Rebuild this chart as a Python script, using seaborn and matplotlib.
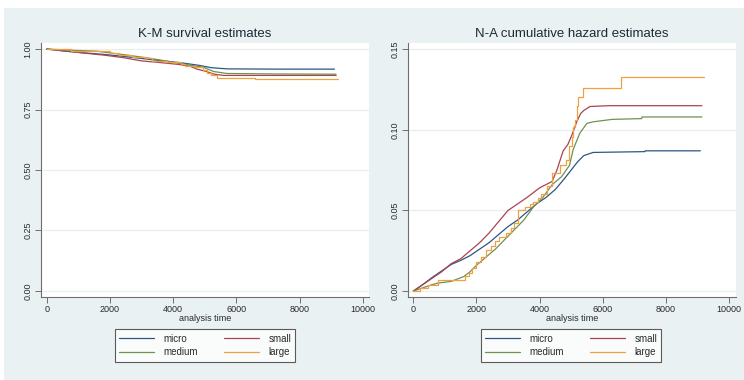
import matplotlib
matplotlib.use("Agg")
import matplotlib.pyplot as plt
from matplotlib.patches import Rectangle
from matplotlib.lines import Line2D
import seaborn as sns
import pandas as pd

# ---------------- data ----------------
groups = ["micro", "small", "medium", "large"]

# Nelson-Aalen cumulative hazard
na_micro_t = [0, 300, 600, 900, 1200, 1500, 1800, 2100, 2400, 2700, 3000, 3300, 3600, 3900, 4200,
              4500, 4800, 5000, 5200, 5400, 5700, 7340, 7350, 9100]
na_micro_h = [0, 0.004, 0.0085, 0.0125, 0.0165, 0.019, 0.022, 0.026, 0.030, 0.035, 0.040, 0.044,
              0.049, 0.054, 0.058, 0.063, 0.070, 0.075, 0.080, 0.084, 0.086, 0.0865, 0.087, 0.087]

na_small_t = [0, 300, 600, 900, 1200, 1500, 1800, 2100, 2400, 2700, 3000, 3300, 3600, 4000, 4200,
              4400, 4550, 4750, 4900, 5030, 5180, 5300, 5400, 5600, 6200, 9150]
na_small_h = [0, 0.004, 0.008, 0.012, 0.017, 0.020, 0.025, 0.030, 0.036, 0.043, 0.050, 0.054, 0.058,
              0.064, 0.066, 0.068, 0.075, 0.087, 0.091, 0.097, 0.105, 0.110, 0.112, 0.1145, 0.115, 0.115]

na_medium_t = [0, 300, 600, 800, 1200, 1600, 1800, 2000, 2300, 2600, 2900, 3200, 3500, 3800, 4100,
               4400, 4700, 4950, 5070, 5280, 5500, 5700, 6300, 7240, 7250, 9150]
na_medium_h = [0, 0.002, 0.004, 0.005, 0.006, 0.009, 0.012, 0.016, 0.021, 0.026, 0.032, 0.038, 0.044,
               0.052, 0.058, 0.066, 0.071, 0.078, 0.088, 0.098, 0.104, 0.105, 0.1065, 0.107, 0.108, 0.108]

na_large_t = [0, 200, 450, 780, 1650, 1750, 1850, 2000, 2150, 2300, 2450, 2600, 2700, 2950, 3100,
              3200, 3320, 3550, 3700, 3800, 3950, 4050, 4250, 4380, 4650, 4850, 4950, 5020, 5070,
              5120, 5200, 5230, 5370, 6580, 9220]
na_large_h = [0, 0.002, 0.004, 0.0068, 0.0093, 0.011, 0.014, 0.018, 0.021, 0.0255, 0.028, 0.031,
              0.0337, 0.036, 0.0389, 0.042, 0.050, 0.052, 0.054, 0.0555, 0.058, 0.060, 0.065, 0.073,
              0.078, 0.081, 0.090, 0.0958, 0.102, 0.106, 0.115, 0.1207, 0.1259, 0.1327, 0.1327]

# Kaplan-Meier survival
km_micro_t = [0, 600, 1200, 1800, 2400, 3000, 3600, 4200, 4800, 5200, 5700, 7350, 9100]
km_micro_s = [1, 0.991, 0.984, 0.978, 0.970, 0.961, 0.952, 0.944, 0.933, 0.923, 0.918, 0.917, 0.917]

km_small_t = [0, 600, 1200, 1800, 2400, 3000, 3600, 4200, 4550, 4750, 5030, 5300, 5600, 9150]
km_small_s = [1, 0.992, 0.983, 0.975, 0.965, 0.951, 0.944, 0.936, 0.928, 0.917, 0.908, 0.896,
              0.891, 0.891]

km_medium_t = [0, 800, 1600, 2000, 2600, 3200, 3800, 4400, 4950, 5280, 5700, 7250, 9150]
km_medium_s = [1, 0.995, 0.991, 0.984, 0.974, 0.963, 0.950, 0.936, 0.925, 0.907, 0.899, 0.897, 0.896]

km_large_t = [0, 780, 1650, 2000, 2300, 2700, 3100, 3320, 3800, 4250, 4380, 4650, 4950, 5070, 5200,
              5370, 6580, 9220]
km_large_s = [1, 0.993, 0.991, 0.982, 0.975, 0.967, 0.962, 0.951, 0.946, 0.937, 0.930, 0.925, 0.914,
              0.903, 0.891, 0.882, 0.875, 0.875]

km_yticks = [0.00, 0.25, 0.50, 0.75, 1.00]
na_yticks = [0.00, 0.05, 0.10, 0.15]
xticks = [0, 2000, 4000, 6000, 8000, 10000]

# ---------------- styling ----------------
colors = {"micro": "#2c5782", "small": "#a8444f", "medium": "#6f9150", "large": "#f0a040"}
steps = {"micro": False, "small": False, "medium": False, "large": True}
bg = "#eaf1f3"
grid_c = "#e8eff1"
spine_c = "#6e6e6e"
txt_c = "#2a2a2a"

sns.set_style("white")
plt.rcParams["font.family"] = ["Liberation Sans", "DejaVu Sans"]

fig = plt.figure(figsize=(7.44, 3.80), dpi=100, facecolor="white")
fig.patches.append(Rectangle((4 / 744, 0), 1, 372 / 380, transform=fig.transFigure,
                             facecolor=bg, edgecolor="none", zorder=-10))

W, H = 744, 380


def ax_rect(x0, x1, y0, y1):
    return [x0 / W, 1 - y1 / H, (x1 - x0) / W, (y1 - y0) / H]


axL = fig.add_axes(ax_rect(41, 369, 43, 297))
axR = fig.add_axes(ax_rect(407.7, 736, 43, 297))

km = {"micro": (km_micro_t, km_micro_s), "small": (km_small_t, km_small_s),
      "medium": (km_medium_t, km_medium_s), "large": (km_large_t, km_large_s)}
na = {"micro": (na_micro_t, na_micro_h), "small": (na_small_t, na_small_h),
      "medium": (na_medium_t, na_medium_h), "large": (na_large_t, na_large_h)}

LW = 0.9


def draw(ax, d, ycol):
    for g in groups:
        t, v = d[g]
        df = pd.DataFrame({"t": t, ycol: v})
        kw = {"drawstyle": "steps-post"} if steps[g] else {}
        sns.lineplot(data=df, x="t", y=ycol, ax=ax, color=colors[g], lw=LW,
                     estimator=None, sort=False, legend=False, **kw)


draw(axL, km, "S")
draw(axR, na, "H")


def style(ax, title, yticks, ylim, xlim, fmt):
    ax.set_facecolor("white")
    ax.set_xlim(*xlim)
    ax.set_ylim(*ylim)
    ax.set_yticks(yticks)
    ax.set_yticklabels([fmt.format(v) for v in yticks], rotation=90, va="center",
                       fontsize=6.5, color=txt_c)
    ax.set_xticks(xticks)
    ax.set_xticklabels([str(v) for v in xticks], fontsize=6.5, color=txt_c)
    for v in yticks:
        ax.axhline(v, color=grid_c, lw=0.9, zorder=0)
    for s in ["top", "right"]:
        ax.spines[s].set_visible(False)
    for s in ["left", "bottom"]:
        ax.spines[s].set_color(spine_c)
        ax.spines[s].set_linewidth(0.8)
    ax.tick_params(axis="both", direction="out", length=4, width=0.7, color=spine_c, pad=2,
                   left=True, bottom=True)
    ax.set_xlabel("analysis time", fontsize=6.5, color=txt_c, labelpad=0)
    ax.set_ylabel("")
    ax.set_title(title, fontsize=9.5, color="#1f2a36", pad=4)


style(axL, "K-M survival estimates", km_yticks, (-0.025, 1.025), (-180, 10190), "{:.2f}")
style(axR, "N-A cumulative hazard estimates", na_yticks, (-0.0037, 0.1539), (-180, 10230), "{:.2f}")

# legends (row-major order like the reference: micro, small / medium, large)
leg_order = ["micro", "medium", "small", "large"]
handles = [Line2D([], [], color=colors[g], lw=LW) for g in leg_order]
for ax, cx in [(axL, 205), (axR, 571)]:
    leg = fig.legend(handles, leg_order, loc="center", ncol=2,
                     bbox_to_anchor=(cx / W, 1 - 345.5 / H), bbox_transform=fig.transFigure,
                     fontsize=7, frameon=True, fancybox=False, edgecolor="#333333",
                     handlelength=3.6, handletextpad=1.0, columnspacing=2.6,
                     borderpad=0.45, labelspacing=0.35)
    leg.get_frame().set_linewidth(0.8)
    leg.get_frame().set_facecolor("white")
    for t in leg.get_texts():
        t.set_color(txt_c)

fig.savefig("out.png", dpi=100, facecolor=fig.get_facecolor())
